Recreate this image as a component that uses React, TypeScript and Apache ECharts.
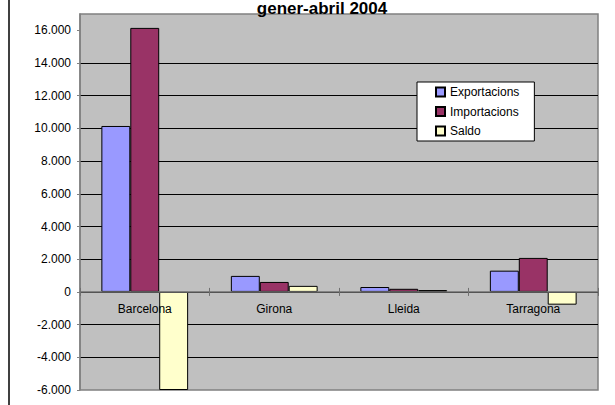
import React, { useEffect, useRef } from 'react';
import * as echarts from 'echarts';

const titleText = 'gener-abril 2004';
const categories = ['Barcelona', 'Girona', 'Lleida', 'Tarragona'];
const seriesNames = ['Exportacions', 'Importacions', 'Saldo'];
const exportacions = [10150, 980, 300, 1300];
const importacions = [16150, 610, 190, 2080];
const saldo = [-6000, 370, 115, -780];
const yTickValues = [-6000, -4000, -2000, 0, 2000, 4000, 6000, 8000, 10000, 12000, 14000, 16000];
const yMin = -6000;
const yMax = 17000;
const yInterval = 2000;

const colors = ['#9999FF', '#993366', '#FFFFCC'];

const W = 615;
const H = 405;
const gridTop = 14;
const gridBottom = 15;

function fmt(v: number): string {
  const s = Math.abs(v).toString().replace(/\B(?=(\d{3})+(?!\d))/g, '.');
  return v < 0 ? '-' + s : s;
}

export default function App() {
  const ref = useRef<HTMLDivElement>(null);
  useEffect(() => {
    if (!ref.current) return;
    const chart = echarts.init(ref.current, undefined, { renderer: 'svg' });
    const font = 'Arial';
    const dataSets = [exportacions, importacions, saldo];
    const plotH = H - gridTop - gridBottom;
    // move the category axis up to the value 0 of the value axis
    const zeroOffset = -(plotH * (0 - yMin)) / (yMax - yMin);
    chart.setOption({
      animation: false,
      backgroundColor: '#ffffff',
      title: {
        text: titleText,
        left: 322,
        top: 0,
        textAlign: 'center',
        padding: 0,
        textStyle: { fontFamily: font, fontSize: 17, fontWeight: 'bold', color: '#000' },
      },
      legend: {
        orient: 'vertical',
        left: 417,
        top: 82,
        icon: 'rect',
        itemWidth: 9,
        itemHeight: 9,
        itemGap: 5.5,
        padding: [3, 15, 3, 18],
        backgroundColor: '#ffffff',
        borderColor: '#000000',
        borderWidth: 1,
        borderRadius: 0,
        textStyle: { fontFamily: font, fontSize: 12, color: '#000', lineHeight: 14 },
        data: seriesNames,
      },
      grid: {
        left: 80,
        right: 17,
        top: gridTop,
        bottom: gridBottom,
        show: true,
        backgroundColor: '#C0C0C0',
        borderColor: '#808080',
        borderWidth: 1.5,
        containLabel: false,
        outerBoundsMode: 'none',
      },
      xAxis: [
        {
          type: 'category',
          data: categories,
          position: 'bottom',
          offset: zeroOffset,
          axisLine: { show: true, onZero: false, lineStyle: { color: '#707070', width: 1.5 } },
          axisTick: { show: true, alignWithLabel: false, length: 4, inside: false, lineStyle: { color: '#707070', width: 1 } },
          axisLabel: { fontFamily: font, fontSize: 12, color: '#000', margin: 11 },
          splitLine: { show: false },
          z: 5,
        },
        {
          type: 'category',
          data: categories,
          position: 'bottom',
          offset: zeroOffset,
          axisLine: { show: false, onZero: false },
          axisTick: { show: true, alignWithLabel: false, length: 4, inside: true, lineStyle: { color: '#707070', width: 1 } },
          axisLabel: { show: false },
          splitLine: { show: false },
          z: 5,
        },
      ],
      yAxis: {
        type: 'value',
        min: yMin,
        max: yMax,
        interval: yInterval,
        axisLine: { show: true, lineStyle: { color: '#808080', width: 1.5 } },
        axisTick: { show: true, length: 3, lineStyle: { color: '#808080' }, customValues: yTickValues },
        axisLabel: {
          fontFamily: font,
          fontSize: 12,
          color: '#000',
          margin: 9,
          customValues: yTickValues,
          formatter: (v: number) => fmt(v),
        },
        splitLine: { show: true, showMinLine: false, showMaxLine: false, lineStyle: { color: '#000', width: 1 } },
      },
      series: seriesNames.map((name, i) => ({
        name,
        type: 'bar',
        xAxisIndex: 0,
        data: dataSets[i],
        barGap: '0%',
        barCategoryGap: '33%',
        itemStyle: { color: colors[i], borderColor: '#000', borderWidth: 1 },
      })),
      graphic: [
        {
          type: 'line',
          shape: { x1: 9, y1: 0, x2: 9, y2: H },
          style: { stroke: '#000', lineWidth: 1.5 },
        },
      ],
    });
    return () => chart.dispose();
  }, []);
  return (
    <div
      ref={ref}
      style={{ position: 'fixed', left: 0, top: 0, width: W, height: H }}
    />
  );
}
